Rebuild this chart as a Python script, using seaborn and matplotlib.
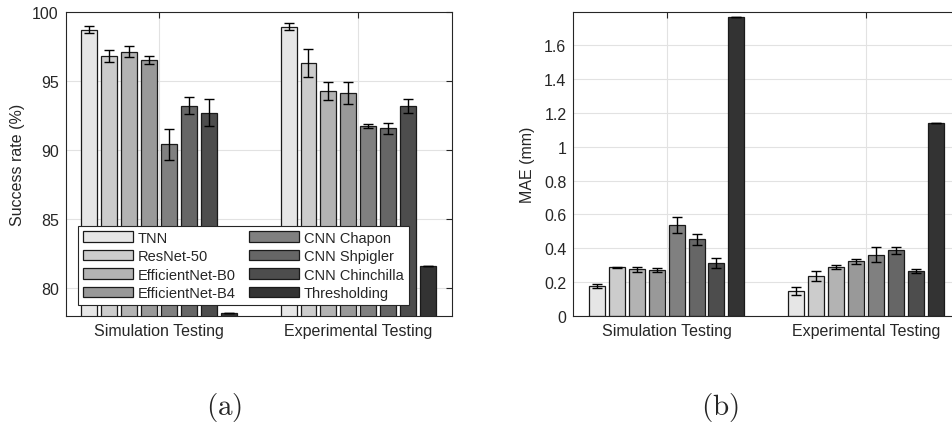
import matplotlib
matplotlib.use("Agg")
import matplotlib.pyplot as plt
from matplotlib.patches import Patch
import pandas as pd
import seaborn as sns

# ---- data -------------------------------------------------------------
tests = ["Simulation Testing", "Experimental Testing"]
methods = ["TNN", "ResNet-50", "EfficientNet-B0", "EfficientNet-B4",
           "CNN Chapon", "CNN Shpigler", "CNN Chinchilla", "Thresholding"]

success_sim = [98.7, 96.8, 97.1, 96.5, 90.4, 93.2, 92.7, 78.2]
success_exp = [98.9, 96.3, 94.25, 94.1, 91.7, 91.55, 93.2, 81.6]
success_sim_err = [0.27, 0.41, 0.41, 0.31, 1.1, 0.6, 0.95, 0.0]
success_exp_err = [0.25, 1.03, 0.66, 0.78, 0.15, 0.4, 0.5, 0.0]

mae_sim = [0.174, 0.286, 0.275, 0.269, 0.535, 0.452, 0.310, 1.768]
mae_exp = [0.146, 0.235, 0.290, 0.322, 0.361, 0.387, 0.265, 1.142]
mae_sim_err = [0.012, 0.004, 0.014, 0.011, 0.048, 0.033, 0.030, 0.0]
mae_exp_err = [0.025, 0.029, 0.013, 0.013, 0.044, 0.020, 0.014, 0.0]

success_ticks = [80, 85, 90, 95, 100]
success_ticklabels = ["80", "85", "90", "95", "100"]
mae_ticks = [0, 0.2, 0.4, 0.6, 0.8, 1.0, 1.2, 1.4, 1.6]
mae_ticklabels = ["0", "0.2", "0.4", "0.6", "0.8", "1", "1.2", "1.4", "1.6"]

grays = ["#e6e6e6", "#cccccc", "#b3b3b3", "#999999",
         "#808080", "#666666", "#4d4d4d", "#333333"]

# ---- tidy table -------------------------------------------------------
rows = []
for t, succ, succ_e, mae, mae_e in [
        (tests[0], success_sim, success_sim_err, mae_sim, mae_sim_err),
        (tests[1], success_exp, success_exp_err, mae_exp, mae_exp_err)]:
    for m, s, se, a, ae in zip(methods, succ, succ_e, mae, mae_e):
        rows.append({"Test": t, "Method": m, "Success": s, "SuccessErr": se,
                     "MAE": a, "MAEErr": ae})
df = pd.DataFrame(rows)

# ---- style ------------------------------------------------------------
sns.set_style("white")
plt.rcParams["font.family"] = ["Liberation Sans", "DejaVu Sans"]
plt.rcParams["mathtext.fontset"] = "cm"
ink = "#262626"

fig = plt.figure(figsize=(9.53, 4.31), dpi=100)
ax_a = fig.add_axes([0.0689, 0.2652, 0.4050, 0.7053])
ax_b = fig.add_axes([0.6016, 0.2652, 0.4050, 0.7053])


def draw_panel(ax, col, errcol, ylim, ticks, ticklabels, ylabel, label_x):
    sns.barplot(data=df, x="Test", y=col, hue="Method", order=tests,
                hue_order=methods, palette=grays, width=0.8, gap=0.2,
                errorbar=None, edgecolor="#1a1a1a", linewidth=0.9,
                legend=False, ax=ax, zorder=2)
    for cont, method in zip(ax.containers, methods):
        sub = df[df["Method"] == method].set_index("Test").loc[tests]
        xs = [b.get_x() + b.get_width() / 2 for b in cont]
        ys = [b.get_height() for b in cont]
        ax.errorbar(xs, ys, yerr=sub[errcol].values, fmt="none",
                    ecolor="black", elinewidth=1.0, capsize=3.5,
                    capthick=1.0, zorder=3)
    ax.set_xlim(-0.468, 1.468)
    ax.set_ylim(*ylim)
    ax.set_yticks(ticks)
    ax.set_yticklabels(ticklabels)
    ax.set_xlabel("")
    ax.set_ylabel(ylabel, fontsize=11.5, color=ink)
    ax.yaxis.set_label_coords(label_x, 0.5)
    ax.set_axisbelow(True)
    ax.grid(True, color="#e2e2e2", linewidth=0.8)
    ax.tick_params(direction="in", length=4, width=0.8, top=True,
                   right=True, labelsize=11.5, color=ink, labelcolor=ink,
                   pad=5)
    for sp in ax.spines.values():
        sp.set_visible(True)
        sp.set_color(ink)
        sp.set_linewidth(0.8)


draw_panel(ax_a, "Success", "SuccessErr", (78, 100), success_ticks,
           success_ticklabels, "Success rate (%)", -0.105)
draw_panel(ax_b, "MAE", "MAEErr", (0, 1.8), mae_ticks,
           mae_ticklabels, "MAE (mm)", -0.099)

handles = [Patch(facecolor=c, edgecolor="#1a1a1a", linewidth=0.9)
           for c in grays]
leg = ax_a.legend(handles, methods, ncol=2, loc="lower left",
                  bbox_to_anchor=(0.0326, 0.035), borderaxespad=0,
                  fontsize=10.5, handlelength=3.4, handleheight=0.73,
                  labelspacing=0.3, handletextpad=0.35, columnspacing=0.9,
                  borderpad=0.35, fancybox=False, framealpha=1,
                  edgecolor=ink)
leg.get_frame().set_linewidth(0.8)
leg.set_zorder(5)

fig.text(224 / 953, 1 - 408 / 431, r"$\mathrm{(a)}$", ha="center",
         va="center", fontsize=21)
fig.text(720 / 953, 1 - 408 / 431, r"$\mathrm{(b)}$", ha="center",
         va="center", fontsize=21)

fig.savefig("out.png", dpi=100)
